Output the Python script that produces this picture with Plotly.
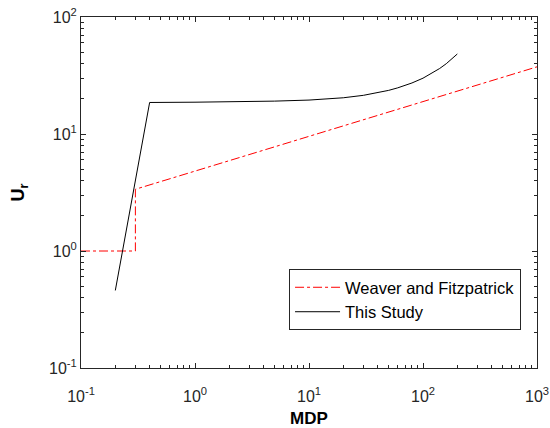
import plotly.graph_objects as go

# Weaver and Fitzpatrick
wf_x = [0.1, 0.3, 0.3, 1000]
wf_y = [1.0, 1.0, 3.37, 37.5]

# This Study
ts_x = [0.2, 0.4, 1, 2.5, 5, 10, 20, 30, 40, 50, 60, 80, 100, 120, 140, 160, 180, 200]
ts_y = [0.46, 18.6, 18.7, 18.8, 19.1, 19.5, 20.4, 21.4, 22.5, 23.6, 24.8, 27.3, 30.0, 33.0, 36.3, 39.9, 43.9, 48.3]

x_ticks = [0.1, 1, 10, 100, 1000]
x_labels = ["10<sup>-1</sup>", "10<sup>0</sup>", "10<sup>1</sup>", "10<sup>2</sup>", "10<sup>3</sup>"]
y_ticks = [0.1, 1, 10, 100]
y_labels = ["10<sup>-1</sup>", "10<sup>0</sup>", "10<sup>1</sup>", "10<sup>2</sup>"]

x_minor = [m * 10 ** e for e in range(-1, 3) for m in range(2, 10)]
y_minor = [m * 10 ** e for e in range(-1, 2) for m in range(2, 10)]

AX = "#262626"
FONT = "Liberation Sans, Arial, Helvetica, sans-serif"

fig = go.Figure()
fig.add_trace(go.Scatter(x=wf_x, y=wf_y, mode="lines", name="Weaver and Fitzpatrick",
                         line=dict(color="#ff0000", width=1, dash="dashdot")))
fig.add_trace(go.Scatter(x=ts_x, y=ts_y, mode="lines", name="This Study",
                         line=dict(color="#000000", width=1)))

axis_common = dict(
    type="log", showgrid=False, zeroline=False, showline=True, linecolor=AX, linewidth=1,
    mirror="ticks", ticks="inside", ticklen=5, tickcolor=AX, tickwidth=1, automargin=False,
    tickfont=dict(family=FONT, size=16, color=AX),
)

fig.update_xaxes(
    **axis_common, range=[-1, 3], tickmode="array", tickvals=x_ticks, ticktext=x_labels,
    ticklabelstandoff=14,
    minor=dict(tickmode="array", tickvals=x_minor, ticks="inside", ticklen=3, tickcolor=AX),
    title=dict(text="<b>MDP</b>", font=dict(family=FONT, size=17, color="#000000"), standoff=8),
)
fig.update_yaxes(
    **axis_common, range=[-1, 2], tickmode="array", tickvals=y_ticks, ticktext=y_labels,
    minor=dict(tickmode="array", tickvals=y_minor, ticks="inside", ticklen=3, tickcolor=AX),
    title=dict(text="<b>U<sub>r</sub></b>", font=dict(family=FONT, size=18, color="#000000"), standoff=19),
)

fig.update_layout(
    width=550, height=428,
    margin=dict(l=81, r=13, t=17, b=60),
    plot_bgcolor="white", paper_bgcolor="white",
    font=dict(family=FONT, color=AX),
    showlegend=True,
    legend=dict(x=0.965, y=0.195, xanchor="right", yanchor="middle",
                bgcolor="white", bordercolor=AX, borderwidth=1,
                font=dict(family=FONT, size=16.5, color="#000000"),
                tracegroupgap=0, itemwidth=45),
)

fig.write_html("out.html", config={"displayModeBar": False})

with open("out.html", "r", encoding="utf-8") as f:
    html = f.read()
html = html.replace("<body>", '<body style="margin:0;padding:0;overflow:hidden">', 1)
with open("out.html", "w", encoding="utf-8") as f:
    f.write(html)
